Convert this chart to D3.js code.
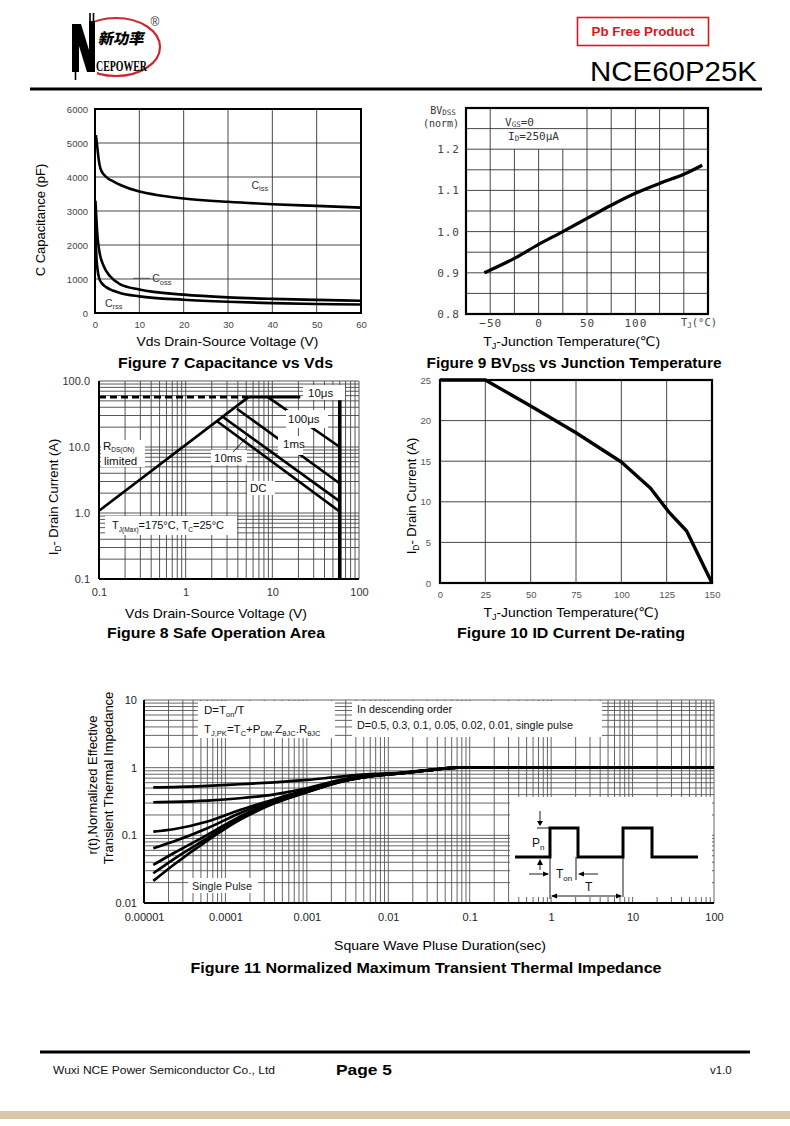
<!DOCTYPE html>
<html><head><meta charset="utf-8">
<script src="https://cdn.jsdelivr.net/npm/d3@7"></script>
<style>body{margin:0;background:#fff}svg{display:block}</style>
</head><body><svg id="page" width="790" height="1126"></svg>
<script>
// ================= DATA =================
// Figure 7 : Capacitance vs Vds  ([Vds (V), C (pF)])
const capTicksX = [0,10,20,30,40,50,60];
const capTicksY = [0,1000,2000,3000,4000,5000,6000];
const cissPts = [[0.2,5230],[0.5,4900],[0.8,4550],[1.2,4260],[2,4070],[3,3950],[4,3880],[6,3750],[10,3570],[15,3450],[20,3370],[30,3270],[40,3200],[50,3150],[60,3100]];
const cossPts = [[0.1,3300],[0.3,2800],[0.6,2200],[1,1800],[2,1370],[3.4,1080],[5.6,850],[10,690],[20,540],[30,460],[40,415],[50,385],[60,362]];
const crssPts = [[0.1,2400],[0.3,1700],[0.6,1250],[1,1000],[1.5,880],[2.5,760],[4,660],[5.6,590],[10,490],[20,390],[30,330],[40,290],[50,265],[60,250]];

// Figure 9 : BVdss (norm) vs Tj
const bvTemp = [-56,-25,0,25,50,75,100,125,150,169];
const bvNorm = [0.900,0.935,0.969,1.000,1.032,1.064,1.093,1.117,1.139,1.161];
const bvTicksX = [-50,0,50,100];
const bvTicksY = [0.8,0.9,1.0,1.1,1.2];
const bvGridX = [-50,-25,0,25,50,75,100,125,150];
const bvGridY = [0.85,0.9,0.95,1.0,1.05,1.1,1.15,1.2,1.25];

// Figure 8 : Safe operating area  ([Vds (V), Id (A)])
const soaTicksX = [0.1,1,10,100];
const soaTickLabelsX = ["0.1","1","10","100"];
const soaTicksY = [0.1,1,10,100];
const soaTickLabelsY = ["0.1","1.0","10.0","100.0"];
const soaRdsLimit = [[0.1,1.08],[5.3,57]];
const soaIdmDashed = [[0.1,57],[5.3,57]];
const soa10us = [[5.3,57],[21,57]];
const soa100us = [[8.9,57],[60,10]];
const soa1ms = [[3.9,38],[60,2.8]];
const soa10ms = [[2.6,29.5],[60,1.5]];
const soaDC = [[2.3,24.6],[60,1.05]];
const soaVdsMax = [[60,51],[60,0.1]];

// Figure 10 : Id derating
const derTemp = [0,25,50,75,100,116,126,136,150];
const derId = [25,25,21.8,18.5,14.9,11.7,8.8,6.4,0];
const derTicksX = [0,25,50,75,100,125,150];
const derTicksY = [0,5,10,15,20,25];

// Figure 11 : Normalized transient thermal impedance
const thermT = [1.3e-5,2.3e-5,6e-5,1.5e-4,4e-4,1e-3,2.6e-3,6.8e-3,0.0145,0.03,0.07,100];
const thermD05 = [0.51,0.515,0.537,0.569,0.608,0.658,0.738,0.807,0.845,0.92,1,1];
const thermD03 = [0.308,0.312,0.326,0.353,0.404,0.496,0.66,0.775,0.835,0.915,1,1];
const thermD01 = [0.1135,0.123,0.16,0.237,0.341,0.469,0.63,0.765,0.83,0.91,1,1];
const thermD005 = [0.0644,0.0808,0.127,0.212,0.333,0.458,0.625,0.765,0.83,0.91,1,1];
const thermD002 = [0.0365,0.0543,0.1014,0.189,0.315,0.442,0.62,0.76,0.83,0.91,1,1];
const thermD001 = [0.0275,0.0443,0.0905,0.179,0.304,0.438,0.62,0.76,0.83,0.91,1,1];
const thermSingle = [0.0212,0.0365,0.0836,0.169,0.298,0.433,0.615,0.76,0.83,0.91,1,1];
const thermTicksX = [1e-5,1e-4,1e-3,1e-2,0.1,1,10,100];
const thermTickLabelsX = ["0.00001","0.0001","0.001","0.01","0.1","1","10","100"];
const thermTicksY = [0.01,0.1,1,10];
const thermTickLabelsY = ["0.01","0.1","1","10"];

// ================= DRAWING =================
const F = '"Liberation Sans", Arial, "DejaVu Sans", sans-serif';
const FM = '"DejaVu Sans Mono", "Liberation Mono", monospace';
const svg = d3.select("#page");
svg.append("rect").attr("width",790).attr("height",1126).attr("fill","#fff");

function txt(g, x, y, content, o = {}) {
  const size = o.size || 12;
  const t = g.append("text").attr("x", x).attr("y", y)
    .attr("font-family", o.family || F).attr("font-size", size)
    .attr("fill", o.fill || "#000").attr("text-anchor", o.anchor || "start");
  if (o.weight) t.attr("font-weight", o.weight);
  if (o.transform) t.attr("transform", o.transform);
  if (o.len) t.attr("textLength", o.len).attr("lengthAdjust", "spacingAndGlyphs");
  if (o.ls) t.attr("letter-spacing", o.ls);
  const parts = Array.isArray(content) ? content : [content];
  const sub = o.sub !== undefined ? o.sub : 0.3 * size;
  const subSize = o.subSize || 0.62 * size;
  let cur = 0;
  parts.forEach(p => {
    const isSub = Array.isArray(p);
    const target = isSub ? sub : 0;
    const ts = t.append("tspan").text(isSub ? p[0] : p);
    if (target !== cur) ts.attr("dy", target - cur);
    if (isSub) ts.attr("font-size", subSize);
    cur = target;
  });
  return t;
}
function vtxt(g, bx, cy, content, o = {}) {
  return txt(g, 0, 0, content, Object.assign({anchor: "middle", transform: `translate(${bx},${cy}) rotate(-90)`}, o));
}
function styleAxis(a, o) {
  a.select(".domain").remove();
  a.selectAll(".tick line").remove();
  a.selectAll("text").attr("font-family", o.family || F).attr("font-size", o.size || 10)
    .attr("fill", o.fill || "#000");
  if (o.ls) a.selectAll("text").attr("letter-spacing", o.ls);
  return a;
}
function whiteBox(g, x, y, w, h) {
  g.append("rect").attr("x", x).attr("y", y).attr("width", w).attr("height", h).attr("fill", "#fff");
}

// ---------- HEADER ----------
const hd = svg.append("g");
hd.append("ellipse").attr("cx",116).attr("cy",47).attr("rx",44).attr("ry",29)
  .attr("fill","none").attr("stroke","#c8282e").attr("stroke-width",2.2);
hd.append("rect").attr("x",70).attr("y",22).attr("width",27).attr("height",52).attr("fill","#fff");
hd.append("path").attr("d","M72,24 L81,24 L89,50 L89,21 L95,21 L95,72 L87,72 L79,46 L79,72 L72,72 Z").attr("fill","#000");
hd.append("path").attr("d","M90,21 L90,13 M93.5,21 L93.5,13 M75.5,72 L75.5,80").attr("stroke","#000").attr("stroke-width",1.6);
txt(hd, 98, 44, "新功率", {family:'"Noto Sans CJK SC", sans-serif', weight:900, size:15, len:46,
  transform:"skewX(-12) translate(9,0)"});
txt(hd, 96, 71, "CEPOWER", {family:'"Liberation Serif", serif', weight:"bold", size:15, len:51});
txt(hd, 155, 26, "®", {size:12, fill:"#333", anchor:"middle"});
hd.append("rect").attr("x",577.5).attr("y",17.5).attr("width",131).attr("height",28)
  .attr("fill","none").attr("stroke","#e0141e").attr("stroke-width",1.6);
txt(hd, 643, 36, "Pb Free Product", {weight:"bold", size:13, fill:"#e0141e", anchor:"middle", len:103});
txt(hd, 590, 81, "NCE60P25K", {size:28, len:167});
hd.append("line").attr("x1",30).attr("x2",762).attr("y1",89).attr("y2",89).attr("stroke","#000").attr("stroke-width",3);

// ---------- FIGURE 7 ----------
{
  const g = svg.append("g");
  const x = d3.scaleLinear().domain([0,60]).range([95,361]);
  const y = d3.scaleLinear().domain([0,6000]).range([313,109]);
  g.selectAll(".gx").data(capTicksX.slice(1,-1)).join("line")
    .attr("x1",d=>x(d)).attr("x2",d=>x(d)).attr("y1",y(6000)).attr("y2",y(0))
    .attr("stroke","#333").attr("stroke-width",0.9);
  g.selectAll(".gy").data(capTicksY.slice(1,-1)).join("line")
    .attr("y1",d=>y(d)).attr("y2",d=>y(d)).attr("x1",x(0)).attr("x2",x(60))
    .attr("stroke","#333").attr("stroke-width",0.9);
  const line = d3.line().x(d=>x(d[0])).y(d=>y(d[1])).curve(d3.curveMonotoneX);
  [cissPts, cossPts, crssPts].forEach(s => g.append("path").attr("d", line(s))
    .attr("fill","none").attr("stroke","#000").attr("stroke-width",2.6));
  g.append("rect").attr("x",x(0)).attr("y",y(6000)).attr("width",x(60)-x(0)).attr("height",y(0)-y(6000))
    .attr("fill","none").attr("stroke","#000").attr("stroke-width",2);
  styleAxis(g.append("g").attr("transform",`translate(${x(0)},0)`)
    .call(d3.axisLeft(y).tickValues(capTicksY).tickSize(0).tickPadding(7).tickFormat(d3.format("d"))), {size:9.5, fill:"#444"});
  styleAxis(g.append("g").attr("transform",`translate(0,${y(0)})`)
    .call(d3.axisBottom(x).tickValues(capTicksX).tickSize(0).tickPadding(8).tickFormat(d3.format("d"))), {size:9.5, fill:"#444"});
  txt(g, x(35.3), y(3650), ["C",["iss"]], {size:10.5, fill:"#333", subSize:7.5, sub:2.5});
  g.append("line").attr("x1",x(8.6)).attr("x2",x(12.4)).attr("y1",y(1020)).attr("y2",y(1020)).attr("stroke","#444").attr("stroke-width",0.9);
  txt(g, x(12.9), y(910), ["C",["oss"]], {size:10.5, fill:"#333", subSize:7.5, sub:2.5});
  txt(g, x(2.25), y(180), ["C",["rss"]], {size:10.5, fill:"#333", subSize:7.5, sub:2.5});
  vtxt(g, 45, 220, "C Capacitance (pF)", {size:13});
  txt(g, 227.5, 346, "Vds Drain-Source Voltage (V)", {size:13, anchor:"middle", len:182});
  txt(g, 225.5, 368, "Figure 7 Capacitance vs Vds", {size:14.5, weight:"bold", anchor:"middle", len:215});
}

// ---------- FIGURE 9 ----------
{
  const g = svg.append("g");
  const x = d3.scaleLinear().domain([-75,175]).range([466,708]);
  const y = d3.scaleLinear().domain([0.8,1.3]).range([314,108]);
  g.selectAll(".gx").data(bvGridX).join("line")
    .attr("x1",d=>x(d)).attr("x2",d=>x(d))
    .attr("y1",d=>(d>-50 && d<50) ? y(1.2) : y(1.3)).attr("y2",y(0.8))
    .attr("stroke","#333").attr("stroke-width",0.9);
  g.selectAll(".gy").data(bvGridY).join("line")
    .attr("y1",d=>y(d)).attr("y2",d=>y(d)).attr("x1",x(-75)).attr("x2",x(175))
    .attr("stroke","#333").attr("stroke-width",0.9);
  const line = d3.line().x((d,i)=>x(bvTemp[i])).y(d=>y(d)).curve(d3.curveMonotoneX);
  g.append("path").attr("d", line(bvNorm)).attr("fill","none").attr("stroke","#000").attr("stroke-width",3.2);
  g.append("rect").attr("x",x(-75)).attr("y",y(1.3)).attr("width",x(175)-x(-75)).attr("height",y(0.8)-y(1.3))
    .attr("fill","none").attr("stroke","#000").attr("stroke-width",2.2);
  styleAxis(g.append("g").attr("transform",`translate(${x(-75)-5},0)`)
    .call(d3.axisLeft(y).tickValues(bvTicksY).tickSize(0).tickPadding(1).tickFormat(d3.format(".1f"))),
    {family:FM, size:11, fill:"#444", ls:1});
  styleAxis(g.append("g").attr("transform",`translate(0,${y(0.8)})`)
    .call(d3.axisBottom(x).tickValues(bvTicksX).tickSize(0).tickPadding(5).tickFormat(d=>d<0?"\u2212"+(-d):String(d))),
    {family:FM, size:11, fill:"#444", ls:1});
  txt(g, 699, 326, ["T",["J"],"(°C)"], {family:FM, size:10.5, fill:"#444", anchor:"middle", subSize:7.5, sub:2});
  txt(g, 443, 114, ["BV",["DSS"]], {family:FM, size:10, fill:"#333", anchor:"middle", subSize:7.5, sub:1});
  txt(g, 441, 127, "(norm)", {family:FM, size:10, fill:"#333", anchor:"middle"});
  txt(g, 505, 126, ["V",["GS"],"=0"], {family:FM, size:11, fill:"#333", subSize:7.5, sub:1});
  txt(g, 508, 140, ["I",["D"],"=250μA"], {family:FM, size:11, fill:"#333", subSize:7.5, sub:1});
  txt(g, 571.7, 346, ["T",["J"],"-Junction Temperature(℃)"], {size:13, anchor:"middle", len:177, subSize:8.5, sub:3});
  txt(g, 574, 368, ["Figure 9 BV",["DSS"]," vs Junction Temperature"], {size:14.5, weight:"bold", anchor:"middle", len:295, subSize:10.5, sub:4});
}

// ---------- FIGURE 8 ----------
{
  const g = svg.append("g");
  const x = d3.scaleLog().domain([0.1,100]).range([99,359]);
  const y = d3.scaleLog().domain([0.1,100]).range([579,381]);
  g.selectAll(".gx").data(x.ticks()).join("line")
    .attr("x1",d=>x(d)).attr("x2",d=>x(d)).attr("y1",y(100)).attr("y2",y(0.1))
    .attr("stroke","#444").attr("stroke-width",0.9);
  g.selectAll(".gy").data(y.ticks()).join("line")
    .attr("y1",d=>y(d)).attr("y2",d=>y(d)).attr("x1",x(0.1)).attr("x2",x(100))
    .attr("stroke","#444").attr("stroke-width",0.9);
  // label backgrounds that mask the grid
  whiteBox(g, 101, 440, 44, 27);
  whiteBox(g, 211, 450, 36, 15);
  whiteBox(g, 247, 481, 28, 14);
  whiteBox(g, 105, 516, 132, 19);
  const line = d3.line().x(d=>x(d[0])).y(d=>y(d[1]));
  [soaRdsLimit, soa10us, soa100us, soa1ms, soa10ms, soaDC].forEach(s => g.append("path")
    .attr("d", line(s)).attr("fill","none").attr("stroke","#000").attr("stroke-width",2.6));
  g.append("path").attr("d", line(soaIdmDashed)).attr("fill","none").attr("stroke","#000")
    .attr("stroke-width",2.6).attr("stroke-dasharray","7,4");
  g.append("path").attr("d", line(soaVdsMax)).attr("fill","none").attr("stroke","#000").attr("stroke-width",3.6);
  // labels that sit on top of the curves
  whiteBox(g, 303, 385, 42, 15);
  whiteBox(g, 286, 410, 42, 18);
  whiteBox(g, 278, 436, 25, 19);
  g.append("line").attr("x1",233).attr("y1",452).attr("x2",247).attr("y2",437).attr("stroke","#000").attr("stroke-width",0.9);
  g.append("line").attr("x1",x(0.1)).attr("x2",x(0.1)).attr("y1",y(100)).attr("y2",y(0.1)).attr("stroke","#000").attr("stroke-width",2);
  g.append("line").attr("x1",x(0.1)).attr("x2",x(100)).attr("y1",y(0.1)).attr("y2",y(0.1)).attr("stroke","#000").attr("stroke-width",2);
  styleAxis(g.append("g").attr("transform",`translate(${x(0.1)},0)`)
    .call(d3.axisLeft(y).tickValues(soaTicksY).tickSize(0).tickPadding(9).tickFormat((d,i)=>soaTickLabelsY[i])),
    {size:11, fill:"#333"});
  styleAxis(g.append("g").attr("transform",`translate(0,${y(0.1)})`)
    .call(d3.axisBottom(x).tickValues(soaTicksX).tickSize(0).tickPadding(9).tickFormat((d,i)=>soaTickLabelsX[i])),
    {size:11, fill:"#333"});
  txt(g, 308, 397, "10μs", {size:11.5, fill:"#111"});
  txt(g, 288, 423, "100μs", {size:11.5, fill:"#111"});
  txt(g, 283, 448, "1ms", {size:11.5, fill:"#111"});
  txt(g, 214, 462, "10ms", {size:11.5, fill:"#111"});
  txt(g, 250, 492, "DC", {size:11.5, fill:"#111"});
  txt(g, 103, 450, ["R",["DS(ON)"]], {size:11.5, fill:"#111", subSize:6.5, sub:2});
  txt(g, 104, 465, "limited", {size:11.5, fill:"#111"});
  txt(g, 112, 529, ["T",["J(Max)"],"=175°C, T",["C"],"=25°C"], {size:11, fill:"#111", subSize:6.5, sub:2.5});
  vtxt(g, 58, 497, ["I",["D"],"- Drain Current (A)"], {size:13, subSize:8.5, sub:3});
  txt(g, 216, 618, "Vds Drain-Source Voltage (V)", {size:13, anchor:"middle", len:182});
  txt(g, 216, 638, "Figure 8 Safe Operation Area", {size:14.5, weight:"bold", anchor:"middle", len:218});
}

// ---------- FIGURE 10 ----------
{
  const g = svg.append("g");
  const x = d3.scaleLinear().domain([0,150]).range([440,712]);
  const y = d3.scaleLinear().domain([0,25]).range([583,380]);
  g.selectAll(".gx").data(derTicksX.slice(1,-1)).join("line")
    .attr("x1",d=>x(d)).attr("x2",d=>x(d)).attr("y1",y(25)).attr("y2",y(0))
    .attr("stroke","#333").attr("stroke-width",0.9);
  g.selectAll(".gy").data(derTicksY.slice(1,-1)).join("line")
    .attr("y1",d=>y(d)).attr("y2",d=>y(d)).attr("x1",x(0)).attr("x2",x(150))
    .attr("stroke","#333").attr("stroke-width",0.9);
  const line = d3.line().x((d,i)=>x(derTemp[i])).y(d=>y(d));
  g.append("path").attr("d", line(derId)).attr("fill","none").attr("stroke","#000").attr("stroke-width",3.4)
    .attr("stroke-linejoin","round");
  g.append("rect").attr("x",x(0)).attr("y",y(25)).attr("width",x(150)-x(0)).attr("height",y(0)-y(25))
    .attr("fill","none").attr("stroke","#000").attr("stroke-width",2.2);
  styleAxis(g.append("g").attr("transform",`translate(${x(0)},0)`)
    .call(d3.axisLeft(y).tickValues(derTicksY).tickSize(0).tickPadding(9)), {size:9.5, fill:"#555"});
  styleAxis(g.append("g").attr("transform",`translate(0,${y(0)})`)
    .call(d3.axisBottom(x).tickValues(derTicksX).tickSize(0).tickPadding(8)), {size:9.5, fill:"#555"});
  vtxt(g, 416, 496, ["I",["D"],"- Drain Current (A)"], {size:13, subSize:8.5, sub:3});
  txt(g, 571, 617, ["T",["J"],"-Junction Temperature(℃)"], {size:13, anchor:"middle", len:175, subSize:8.5, sub:3});
  txt(g, 571, 638, "Figure 10 ID Current De-rating", {size:14.5, weight:"bold", anchor:"middle", len:228});
}

// ---------- FIGURE 11 ----------
{
  const g = svg.append("g");
  const x = d3.scaleLog().domain([1e-5,100]).range([144,714]);
  const y = d3.scaleLog().domain([0.01,10]).range([903,700]);
  g.selectAll(".gx").data(x.ticks()).join("line")
    .attr("x1",d=>x(d)).attr("x2",d=>x(d)).attr("y1",y(10)).attr("y2",y(0.01))
    .attr("stroke","#555").attr("stroke-width",0.9);
  g.selectAll(".gy").data(y.ticks()).join("line")
    .attr("y1",d=>y(d)).attr("y2",d=>y(d)).attr("x1",x(1e-5)).attr("x2",x(100))
    .attr("stroke","#555").attr("stroke-width",0.9);
  whiteBox(g, 198, 701, 137, 37);
  whiteBox(g, 352, 701, 250, 36);
  whiteBox(g, 188, 878, 70, 15);
  whiteBox(g, 510, 797, 202, 100);
  const line = d3.line().x((d,i)=>x(thermT[i])).y(d=>y(d)).curve(d3.curveMonotoneX);
  [thermD05, thermD03, thermD01, thermD005, thermD002, thermD001, thermSingle].forEach(s =>
    g.append("path").attr("d", line(s)).attr("fill","none").attr("stroke","#000").attr("stroke-width",2.7));
  g.append("line").attr("x1",x(1e-5)).attr("x2",x(1e-5)).attr("y1",y(10)).attr("y2",y(0.01)).attr("stroke","#000").attr("stroke-width",2);
  g.append("line").attr("x1",x(1e-5)).attr("x2",x(100)).attr("y1",y(0.01)).attr("y2",y(0.01)).attr("stroke","#000").attr("stroke-width",2);
  styleAxis(g.append("g").attr("transform",`translate(${x(1e-5)},0)`)
    .call(d3.axisLeft(y).tickValues(thermTicksY).tickSize(0).tickPadding(7).tickFormat((d,i)=>thermTickLabelsY[i])),
    {size:11, fill:"#222"});
  styleAxis(g.append("g").attr("transform",`translate(0,${y(0.01)})`)
    .call(d3.axisBottom(x).tickValues(thermTicksX).tickSize(0).tickPadding(10).tickFormat((d,i)=>thermTickLabelsX[i])),
    {size:11, fill:"#222"});
  txt(g, 204, 714, ["D=T",["on"],"/T"], {size:11.5, fill:"#111", subSize:7.5, sub:3});
  txt(g, 204, 733, ["T",["J,PK"],"=T",["C"],"+P",["DM"],".Z",["θJC"],".R",["θJC"]], {size:11.5, fill:"#111", subSize:7.5, sub:3});
  txt(g, 357, 713, "In descending order", {size:11.5, fill:"#111", len:95});
  txt(g, 357, 729, "D=0.5, 0.3, 0.1, 0.05, 0.02, 0.01, single pulse", {size:11.5, fill:"#111", len:216});
  txt(g, 192, 890, "Single Pulse", {size:11.5, fill:"#222", len:60});
  // inset: pulse train sketch (local coordinates of the inset box)
  const ins = g.append("g").attr("transform","translate(510,797)");
  const wave = d3.line()([[5,60],[40,60],[40,31],[68,31],[68,60],[113,60],[113,31],[142,31],[142,60],[188,60]]);
  ins.append("path").attr("d", wave).attr("fill","none").attr("stroke","#000").attr("stroke-width",3);
  const thin = (x1,y1,x2,y2)=>ins.append("line").attr("x1",x1).attr("y1",y1).attr("x2",x2).attr("y2",y2).attr("stroke","#000").attr("stroke-width",0.9);
  thin(27,31,40,31);
  thin(30,14,30,26); thin(30,73,30,64);
  thin(40,60,40,102); thin(66,60,66,83); thin(113,60,113,100);
  thin(19,77,38,77); thin(88,77,70,77);
  thin(42,99,111,99);
  const tri = (pts)=>ins.append("path").attr("d", d3.line()(pts)+"Z").attr("fill","#000");
  tri([[27,24],[33,24],[30,29]]);
  tri([[27,68],[33,68],[30,62]]);
  tri([[39,77],[33,74.5],[33,79.5]]);
  tri([[68,77],[74,74.5],[74,79.5]]);
  tri([[41,99],[47,96.5],[47,101.5]]);
  tri([[112,99],[106,96.5],[106,101.5]]);
  txt(ins, 22, 50, ["P",["n"]], {size:12, fill:"#111", subSize:8, sub:3});
  txt(ins, 46, 81, ["T",["on"]], {size:12, fill:"#111", subSize:8, sub:3});
  txt(ins, 75, 94, "T", {size:12, fill:"#111"});
  vtxt(g, 97, 785, "r(t),Normalized Effective", {size:13});
  vtxt(g, 113, 778, "Transient Thermal Impedance", {size:13});
  txt(g, 440, 950, "Square Wave Pluse Duration(sec)", {size:13, anchor:"middle", len:212});
  txt(g, 426, 973, "Figure 11 Normalized Maximum Transient Thermal Impedance", {size:14.5, weight:"bold", anchor:"middle", len:471});
}

// ---------- FOOTER ----------
const ft = svg.append("g");
ft.append("line").attr("x1",40).attr("x2",750).attr("y1",1052).attr("y2",1052).attr("stroke","#000").attr("stroke-width",3);
txt(ft, 53, 1074, "Wuxi NCE Power Semiconductor Co., Ltd", {size:11.5, fill:"#111", len:222});
txt(ft, 364, 1075, "Page 5", {size:15.5, weight:"bold", anchor:"middle", len:56});
txt(ft, 710, 1074, "v1.0", {size:11.5, fill:"#111"});
ft.append("rect").attr("x",0).attr("y",1111).attr("width",790).attr("height",8).attr("fill","#d8c8aa");
</script></body></html>
